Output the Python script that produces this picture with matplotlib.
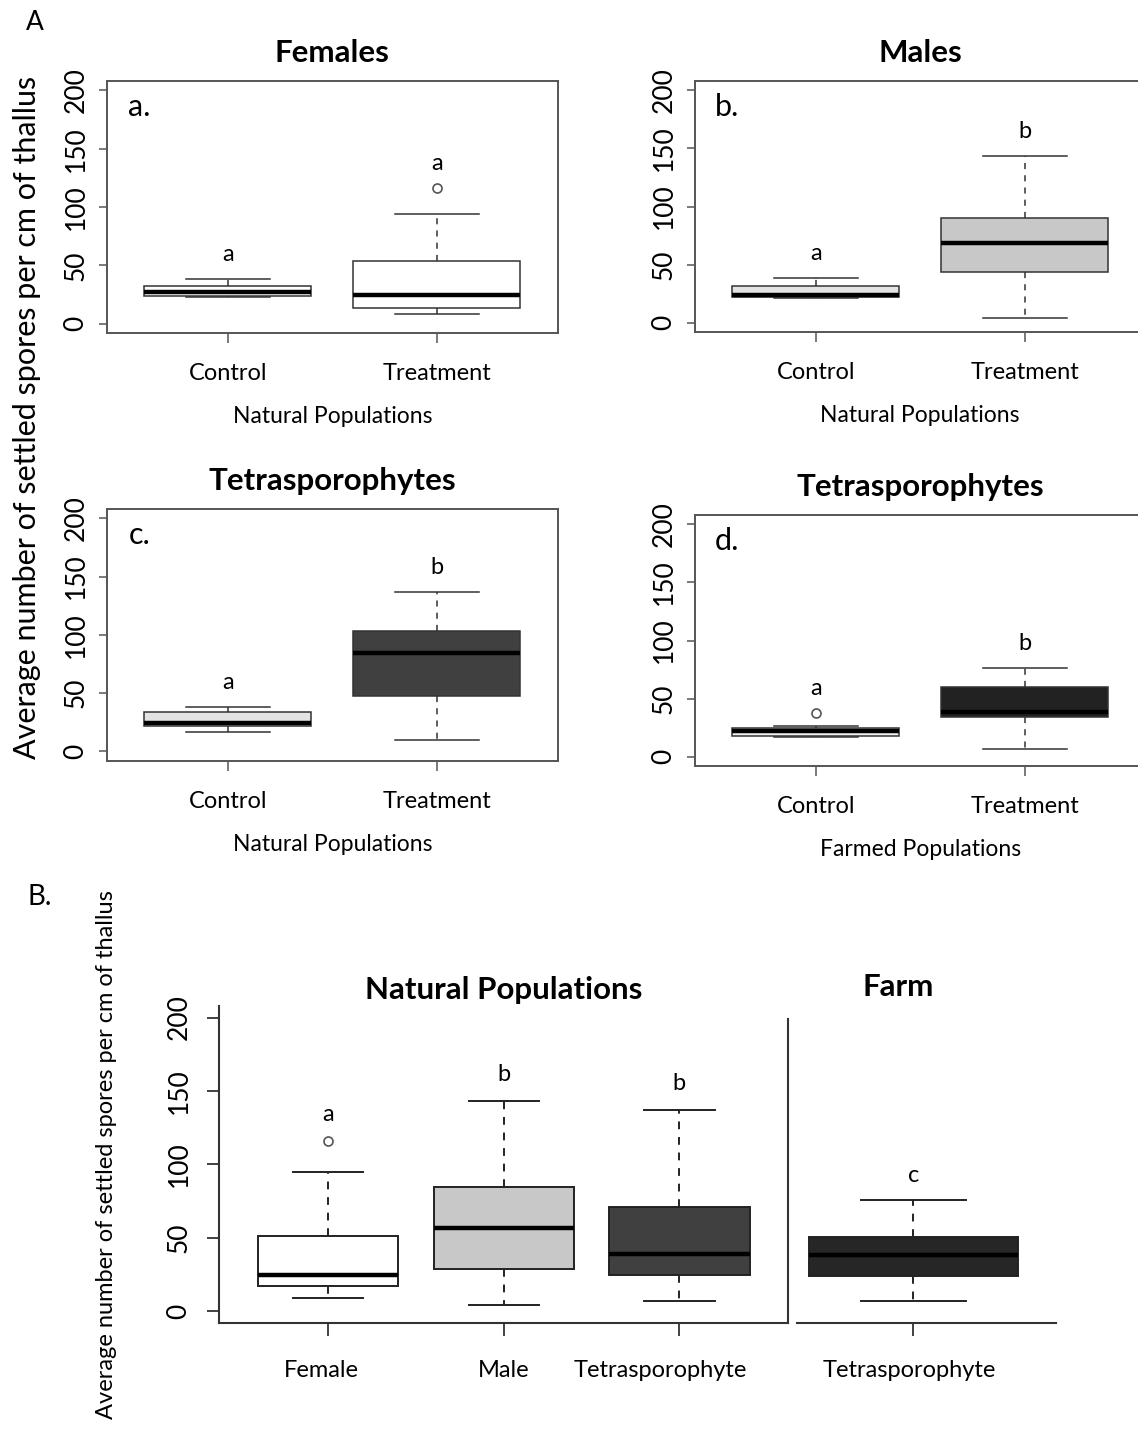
import numpy as np
import matplotlib
matplotlib.use("Agg")
import matplotlib.pyplot as plt
import matplotlib.transforms as mtransforms

plt.rcParams['font.family'] = ['Lato', 'DejaVu Sans']

# five-number summaries: lower whisker, Q1, median, Q3, upper whisker
groups_ab = ["Control", "Treatment"]

female_ctrl = [22.5, 24, 27, 32, 38.5]
female_trt = [8.6, 13.7, 25, 53.4, 94.3]
female_out = [[], [116]]
female_letters = ["a", "a"]

male_ctrl = [21.5, 22.5, 24, 31.5, 38.5]
male_trt = [3.8, 43.4, 68.7, 90.3, 143.7]
male_out = [[], []]
male_letters = ["a", "b"]

tetra_ctrl = [16.4, 22.2, 24.2, 33.4, 38.3]
tetra_trt = [9.5, 47.3, 84.7, 103.1, 137.2]
tetra_out = [[], []]
tetra_letters = ["a", "b"]

farm_ctrl = [17, 18, 22, 24.5, 26]
farm_trt = [6.9, 34.2, 38.7, 59.7, 76.6]
farm_out = [[38], []]
farm_letters = ["a", "b"]

# panel B
groups_nat = ["Female", "Male", "Tetrasporophyte"]
nat_stats = [[8.6, 16.8, 24.7, 51.3, 94.5],
             [3.9, 28.6, 56.3, 84.2, 143.0],
             [6.7, 24.7, 38.7, 71.0, 136.9]]
nat_out = [[116], [], []]
nat_letters = ["a", "b", "b"]

groups_farm = ["Tetrasporophyte"]
farm_stats = [[6.9, 24.0, 38.0, 50.5, 75.5]]
farm_letters_B = ["c"]

yticks = [0, 50, 100, 150, 200]
ylabel = "Average number of settled spores per cm of thallus"

W, H = 1138, 1429
fig = plt.figure(figsize=(W / 100, H / 100), dpi=100)


def px_axes(x0, y0, x1, y1):
    return fig.add_axes([x0 / W, 1 - y1 / H, (x1 - x0) / W, (y1 - y0) / H])


def make_stats(summaries, outliers):
    return [dict(whislo=s[0], q1=s[1], med=s[2], q3=s[3], whishi=s[4],
                 fliers=o) for s, o in zip(summaries, outliers)]


def draw_boxes(ax, stats, colors, edge, lw):
    pos = np.arange(1, len(stats) + 1)
    res = ax.bxp(stats, positions=pos, widths=0.8, capwidths=0.4,
                 patch_artist=True, showfliers=True,
                 boxprops=dict(edgecolor=edge, linewidth=lw),
                 whiskerprops=dict(color=edge, linewidth=lw, linestyle=(0, (4, 4))),
                 capprops=dict(color=edge, linewidth=lw),
                 medianprops=dict(color='black', linewidth=3.2),
                 flierprops=dict(marker='o', markerfacecolor='none',
                                 markeredgecolor='#555555', markersize=6.5,
                                 markeredgewidth=1.2))
    for b, c in zip(res['boxes'], colors):
        b.set_facecolor(c)
    return pos


def letters_above(ax, stats, pos, letters, off, size):
    for p, s, l in zip(pos, stats, letters):
        top = max([s['whishi']] + list(s['fliers']))
        ax.text(p, top + off, l, ha='center', va='center', fontsize=size)


def panel_a(rect, summaries, outliers, colors, letters, title, tag, xlabel):
    ax = px_axes(*rect)
    stats = make_stats(summaries, outliers)
    pos = draw_boxes(ax, stats, colors, '#333333', 1.1)
    letters_above(ax, stats, pos, letters, 21, 17)
    ax.set_xlim(0.42, 2.58)
    ax.set_ylim(-8, 208)
    ax.set_yticks(yticks)
    ax.set_yticklabels([str(t) for t in yticks], rotation=90, va='center', fontsize=19)
    ax.set_xticks(pos)
    ax.set_xticklabels(groups_ab, fontsize=17)
    for sp in ax.spines.values():
        sp.set_color('#555555')
        sp.set_linewidth(1.4)
    ax.tick_params(axis='y', direction='out', length=6, width=1.1, color='#555555', pad=7)
    ax.tick_params(axis='x', direction='out', length=7.5, width=1.1, color='#555555', pad=14)
    ax.set_title(title, fontsize=22.5, fontweight='bold', pad=14)
    ax.set_xlabel(xlabel, fontsize=16.5, labelpad=16)
    ax.text(0.072, 0.895, tag, transform=ax.transAxes, ha='center', va='center', fontsize=22)
    return ax


panel_a((106.7, 81, 558, 333), [female_ctrl, female_trt], female_out,
        ['white', 'white'], female_letters, "Females", "a.", "Natural Populations")
panel_a((694.5, 81, 1146, 332), [male_ctrl, male_trt], male_out,
        ['#e3e3e3', '#c8c8c8'], male_letters, "Males", "b.", "Natural Populations")
panel_a((106.7, 509, 558, 760.7), [tetra_ctrl, tetra_trt], tetra_out,
        ['#e3e3e3', '#404040'], tetra_letters, "Tetrasporophytes", "c.", "Natural Populations")
panel_a((694.5, 515, 1146, 766), [farm_ctrl, farm_trt], farm_out,
        ['#f0f0f0', '#222222'], farm_letters, "Tetrasporophytes", "d.", "Farmed Populations")

fig.text(27 / W, 1 - 417 / H, ylabel, rotation=90, ha='center', va='center', fontsize=22)
fig.text(35 / W, 1 - 22 / H, "A", ha='center', va='center', fontsize=19)
fig.text(40 / W, 1 - 897 / H, "B.", ha='center', va='center', fontsize=20)

# panel B: natural populations
axn = px_axes(219.3, 1005.8, 788.3, 1322.7)
st = make_stats(nat_stats, nat_out)
pos = draw_boxes(axn, st, ['white', '#c8c8c8', '#404040'], '#222222', 1.4)
letters_above(axn, st, pos, nat_letters, 18, 17)
axn.set_xlim(0.38, 3.62)
axn.set_ylim(-8, 208)
axn.set_yticks(yticks)
axn.set_yticklabels([str(t) for t in yticks], rotation=90, va='center', fontsize=19)
axn.set_xticks(pos)
axn.set_xticklabels(groups_nat, fontsize=17)
axn.spines['top'].set_visible(False)
for k in ['left', 'bottom', 'right']:
    axn.spines[k].set_color('#333333')
    axn.spines[k].set_linewidth(1.5)
axn.spines['right'].set_bounds(-8, 199)
axn.tick_params(axis='y', direction='out', length=9, width=1.3, color='#333333', pad=11)
axn.tick_params(axis='x', direction='out', length=9, width=1.3, color='#333333', pad=18)
axn.set_title("Natural Populations", fontsize=22.5, fontweight='bold', pad=5)
# the category labels in the source sit a little left of their boxes
for lab, dx in zip(axn.get_xticklabels(), [-7, 0, -19]):
    lab.set_transform(lab.get_transform() +
                      mtransforms.ScaledTranslation(dx / 100, 0, fig.dpi_scale_trans))

# panel B: farm
axf = px_axes(796.6, 1005.8, 1056, 1322.7)
st = make_stats(farm_stats, [[]])
pos = draw_boxes(axf, st, ['#262626'], '#222222', 1.4)
letters_above(axf, st, pos, farm_letters_B, 17, 17)
axf.set_xlim(0.554, 1.544)
axf.set_ylim(-8, 208)
axf.set_yticks([])
axf.set_xticks(pos)
axf.set_xticklabels(groups_farm, fontsize=17)
for k in ['left', 'top', 'right']:
    axf.spines[k].set_visible(False)
axf.spines['bottom'].set_color('#333333')
axf.spines['bottom'].set_linewidth(1.5)
axf.tick_params(axis='x', direction='out', length=9, width=1.3, color='#333333', pad=18)
for lab in axf.get_xticklabels():
    lab.set_transform(lab.get_transform() +
                      mtransforms.ScaledTranslation(-4 / 100, 0, fig.dpi_scale_trans))
axf.text(0.391, 1.06, "Farm", transform=axf.transAxes, ha='center', va='center',
         fontsize=22.5, fontweight='bold')

fig.text(107 / W, 1 - 1155 / H, ylabel, rotation=90, ha='center', va='center', fontsize=17)

fig.savefig("out.png", dpi=100)
